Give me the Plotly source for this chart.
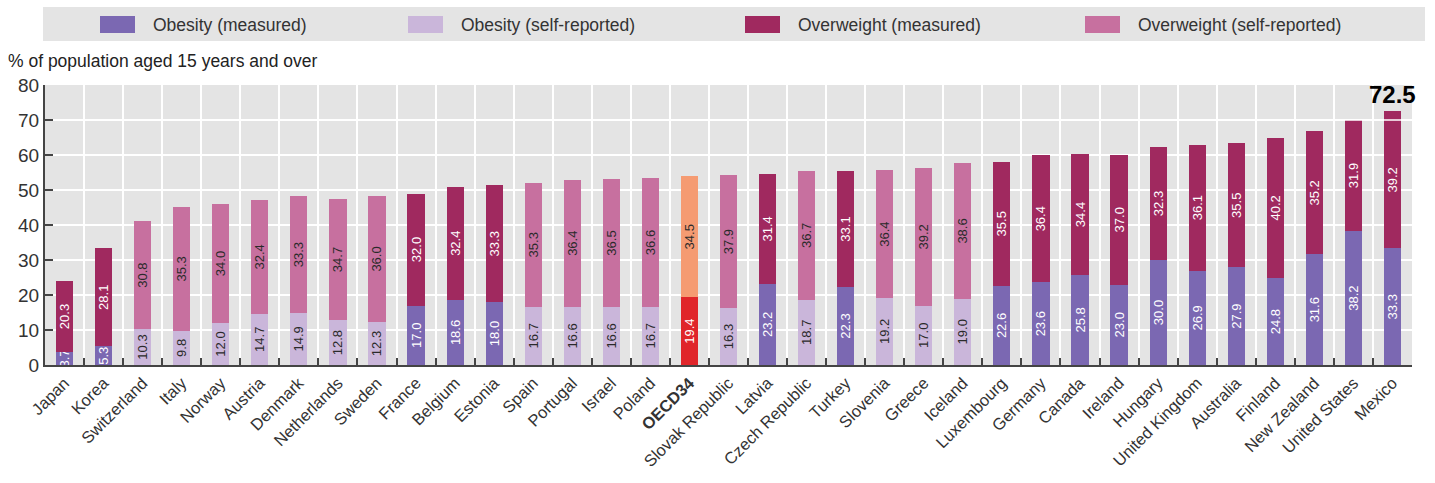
import plotly.graph_objects as go

# ---------------- data ----------------
countries = ["Japan", "Korea", "Switzerland", "Italy", "Norway", "Austria", "Denmark",
             "Netherlands", "Sweden", "France", "Belgium", "Estonia", "Spain", "Portugal",
             "Israel", "Poland", "OECD34", "Slovak Republic", "Latvia", "Czech Republic",
             "Turkey", "Slovenia", "Greece", "Iceland", "Luxembourg", "Germany", "Canada",
             "Ireland", "Hungary", "United Kingdom", "Australia", "Finland", "New Zealand",
             "United States", "Mexico"]
obesity = [3.7, 5.3, 10.3, 9.8, 12.0, 14.7, 14.9, 12.8, 12.3, 17.0, 18.6, 18.0, 16.7, 16.6,
           16.6, 16.7, 19.4, 16.3, 23.2, 18.7, 22.3, 19.2, 17.0, 19.0, 22.6, 23.6, 25.8,
           23.0, 30.0, 26.9, 27.9, 24.8, 31.6, 38.2, 33.3]
overweight = [20.3, 28.1, 30.8, 35.3, 34.0, 32.4, 33.3, 34.7, 36.0, 32.0, 32.4, 33.3, 35.3,
              36.4, 36.5, 36.6, 34.5, 37.9, 31.4, 36.7, 33.1, 36.4, 39.2, 38.6, 35.5, 36.4,
              34.4, 37.0, 32.3, 36.1, 35.5, 40.2, 35.2, 31.9, 39.2]
# M = measured, S = self-reported, OECD = OECD average
method = ["M", "M", "S", "S", "S", "S", "S", "S", "S", "M", "M", "M", "S", "S", "S", "S",
          "OECD", "S", "M", "S", "M", "S", "S", "S", "M", "M", "M", "M", "M", "M", "M", "M",
          "M", "M", "M"]
highlight_country = "Mexico"
y_ticks = [0, 10, 20, 30, 40, 50, 60, 70, 80]
y_title = "% of population aged 15 years and over"

# ---------------- style ----------------
C_OB_M = "#7b68b2"
C_OB_S = "#cab6da"
C_OW_M = "#a0295f"
C_OW_S = "#c7709f"
C_OECD_OB = "#e0252a"
C_OECD_OW = "#f59b72"
SANS = "Liberation Sans, Arial, sans-serif"

W, H = 1435, 483
L, R, T, B = 45, 23, 85, 118
PW, PH = W - L - R, H - T - B


def px(p):
    return (p - L) / PW


def py(p):
    return (H - B - p) / PH


def pick(values, key):
    return [v if m == key else None for v, m in zip(values, method)]


series = [
    ("Obesity (measured)", obesity, "M", C_OB_M, "white", True),
    ("Obesity (self-reported)", obesity, "S", C_OB_S, "#2a2a2a", True),
    ("Obesity OECD", obesity, "OECD", C_OECD_OB, "white", False),
    ("Overweight (measured)", overweight, "M", C_OW_M, "white", True),
    ("Overweight (self-reported)", overweight, "S", C_OW_S, "#2a2a2a", True),
    ("Overweight OECD", overweight, "OECD", C_OECD_OW, "#2a2a2a", False),
]

fig = go.Figure()
for name, vals, key, color, tcol, inleg in series:
    fig.add_trace(go.Bar(
        x=countries, y=pick(vals, key), name=name,
        marker=dict(color=color, line=dict(width=0)),
        texttemplate="%{y:.1f}", textposition="inside", textangle=-90,
        insidetextanchor="middle",
        textfont=dict(family=SANS, size=13, color=tcol),
        showlegend=False, hoverinfo="x+y+name",
    ))

ticktext = ["<b>%s</b>" % c if m == "OECD" else c for c, m in zip(countries, method)]

fig.update_layout(
    width=W, height=H,
    margin=dict(l=L, r=R, t=T, b=B, pad=0),
    barmode="stack", bargap=0.56,
    paper_bgcolor="white", plot_bgcolor="#e4e4e4",
    uniformtext=dict(minsize=13, mode="show"),
    showlegend=False,
    xaxis=dict(
        type="category", range=[-0.5, len(countries) - 0.5],
        tickmode="array", tickvals=countries, ticktext=ticktext,
        tickson="boundaries", ticks="inside", ticklen=7, tickwidth=2, tickcolor="#444",
        showgrid=True, gridcolor="white", gridwidth=2,
        showline=True, linecolor="#444", linewidth=2,
        tickangle=-45, tickfont=dict(family=SANS, size=16.5, color="#333"),
        fixedrange=True,
    ),
    yaxis=dict(
        range=[0, 80], tickmode="array", tickvals=y_ticks,
        ticks="inside", ticklen=8, tickwidth=2, tickcolor="#444",
        showgrid=True, gridcolor="white", gridwidth=2,
        showline=True, linecolor="#444", linewidth=2,
        tickfont=dict(family=SANS, size=19, color="#333"),
        zeroline=False, fixedrange=True,
    ),
)

# manual legend band across the top
shapes = [dict(type="rect", xref="paper", yref="paper", x0=px(43), x1=px(1425),
               y0=py(41), y1=py(7), fillcolor="#e4e4e4", line=dict(width=0), layer="below")]
annotations = []
legend_items = [(s[0], s[3]) for s in series if s[5]]
swatch_left = [100, 408, 745, 1085]
for (name, color), sx in zip(legend_items, swatch_left):
    shapes.append(dict(type="rect", xref="paper", yref="paper", x0=px(sx), x1=px(sx + 35),
                       y0=py(33), y1=py(16), fillcolor=color, line=dict(width=0)))
    annotations.append(dict(xref="paper", yref="paper", x=px(sx + 51), y=py(24.5),
                            xanchor="left", yanchor="middle", showarrow=False, text=name,
                            font=dict(family=SANS, size=17.5, color="#333")))

annotations.append(dict(xref="paper", yref="paper", x=px(6), y=py(60.5), xanchor="left",
                        yanchor="middle", showarrow=False, text=y_title,
                        font=dict(family=SANS, size=17.5, color="#222")))

# highlighted total above Mexico
hi = countries.index(highlight_country)
total_hi = round(obesity[hi] + overweight[hi], 1)
annotations.append(dict(x=highlight_country, y=total_hi, xref="x", yref="y",
                        yanchor="bottom", showarrow=False, yshift=1,
                        text="<b>%.1f</b>" % total_hi,
                        font=dict(family=SANS, size=24, color="black")))
# white gridline across the top of the last two bars
shapes.append(dict(type="line", xref="x", yref="y", x0=hi - 1.5, x1=hi + 0.5,
                   y0=y_ticks[-2], y1=y_ticks[-2], line=dict(color="white", width=1.5),
                   layer="above"))

fig.update_layout(shapes=shapes, annotations=annotations)
fig.write_html("out.html")
